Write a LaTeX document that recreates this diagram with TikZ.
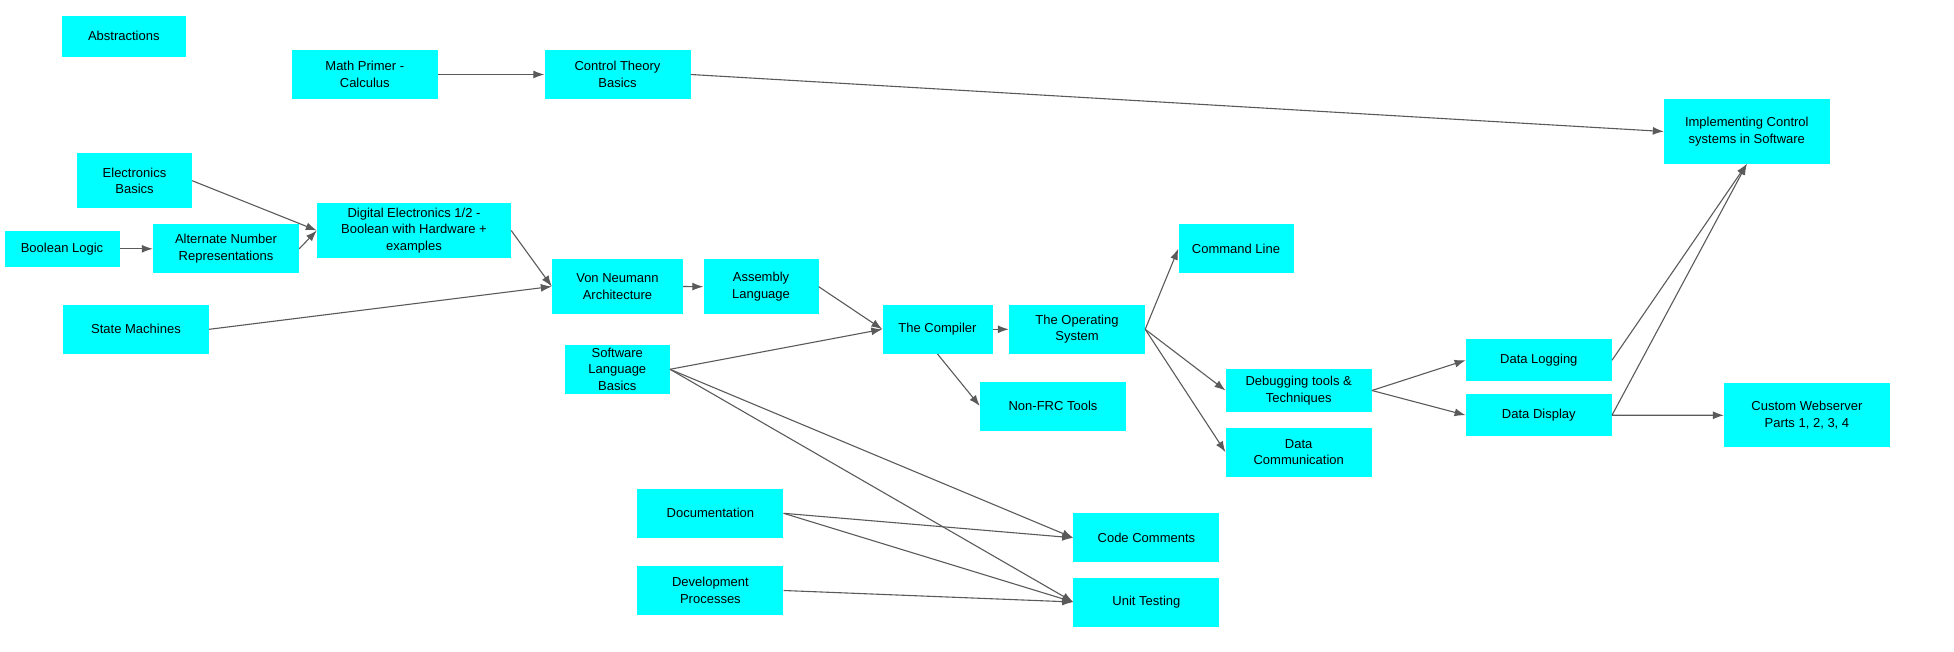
\documentclass[tikz,border=0pt]{standalone}
\usepackage{fontspec}
\setmainfont{Liberation Sans}
\usetikzlibrary{arrows.meta}
\definecolor{arrowgray}{HTML}{5A5A5A}
\definecolor{boxcyan}{RGB}{0,255,255}

\begin{document}
\begin{tikzpicture}[
    x=1pt, y=-1pt,
    box/.style={fill=boxcyan, inner sep=1pt, align=center, font=\fontsize{13}{16.5}\selectfont, minimum width=146pt, minimum height=49pt},
    arrow/.style={-{Latex[length=11pt,width=8pt]}, draw=arrowgray, line width=1.1pt}
]
\useasboundingbox (0,0) rectangle (1954,652);

\node[box, minimum width=123.5pt, minimum height=40.7pt] (abstr) at (123.8,36.3) {Abstractions};
\node[box] (math) at (364.8,74.5) {Math Primer -\\Calculus};
\node[box] (control) at (617.5,74.5) {Control Theory\\Basics};
\node[box, minimum width=165.6pt, minimum height=64.3pt] (impl) at (1746.8,131.5) {Implementing Control\\systems in Software};
\node[box, minimum width=115pt, minimum height=55pt] (elec) at (134.5,180.7) {Electronics\\Basics};
\node[box, minimum width=115pt, minimum height=36pt] (bool) at (62,248.8) {Boolean Logic};
\node[box] (altnum) at (226,248.8) {Alternate Number\\Representations};
\node[box, minimum width=194pt, minimum height=55.7pt] (digital) at (414,230.5) {Digital Electronics 1/2 -\\Boolean with Hardware +\\examples};
\node[box] (statem) at (136,329.3) {State Machines};
\node[box, minimum width=131pt, minimum height=55.7pt] (vonn) at (617.5,286.5) {Von Neumann\\Architecture};
\node[box, minimum width=115pt, minimum height=55.3pt] (asm) at (761,286.7) {Assembly\\Language};
\node[box, minimum width=105pt] (softw) at (617.3,369.3) {Software\\Language\\Basics};
\node[box] (doc) at (710.4,513.3) {Documentation};
\node[box] (devproc) at (710.4,590.5) {Development\\Processes};
\node[box, minimum width=110pt] (compiler) at (937.5,329.3) {The Compiler};
\node[box, minimum width=136pt] (os) at (1077,329.3) {The Operating\\System};
\node[box, minimum width=115pt] (cmdline) at (1236,248.8) {Command Line};
\node[box] (nonfrc) at (1053,406) {Non-FRC Tools};
\node[box, minimum height=42.3pt] (debug) at (1298.7,390.5) {Debugging tools \&\\Techniques};
\node[box] (datacomm) at (1298.7,452.2) {Data\\Communication};
\node[box] (comments) at (1146.4,537.8) {Code Comments};
\node[box] (unittest) at (1146.4,602) {Unit Testing};
\node[box, minimum height=42.3pt] (logging) at (1538.8,360.2) {Data Logging};
\node[box, minimum height=42.3pt] (display) at (1538.8,415.2) {Data Display};
\node[box, minimum width=165.7pt, minimum height=64pt] (webserver) at (1806.9,415.3) {Custom Webserver\\Parts 1, 2, 3, 4};

\draw[arrow] (math.east) -- (control.west);
\draw[arrow] (control.east) -- (impl.west);
\draw[arrow] (elec.east) -- (digital.west);
\draw[arrow] (bool.east) -- (altnum.west);
\draw[arrow] (altnum.east) -- (digital.west);
\draw[arrow] (digital.east) -- (vonn.west);
\draw[arrow] (statem.east) -- (vonn.west);
\draw[arrow] (vonn.east) -- (asm.west);
\draw[arrow] (asm.east) -- (compiler.west);
\draw[arrow] (softw.east) -- (compiler.west);
\draw[arrow] (compiler.east) -- (os.west);
\draw[arrow] (compiler.south) -- (nonfrc.west);
\draw[arrow] (os.east) -- (cmdline.west);
\draw[arrow] (os.east) -- (debug.west);
\draw[arrow] (os.east) -- (datacomm.west);
\draw[arrow] (debug.east) -- (logging.west);
\draw[arrow] (debug.east) -- (display.west);
\draw[arrow] (logging.east) -- (impl.south);
\draw[arrow] (display.east) -- (impl.south);
\draw[arrow] (display.east) -- (webserver.west);
\draw[arrow] (softw.east) -- (comments.west);
\draw[arrow] (softw.east) -- (unittest.west);
\draw[arrow] (doc.east) -- (comments.west);
\draw[arrow] (doc.east) -- (unittest.west);
\draw[arrow] (devproc.east) -- (unittest.west);
\end{tikzpicture}
\end{document}
